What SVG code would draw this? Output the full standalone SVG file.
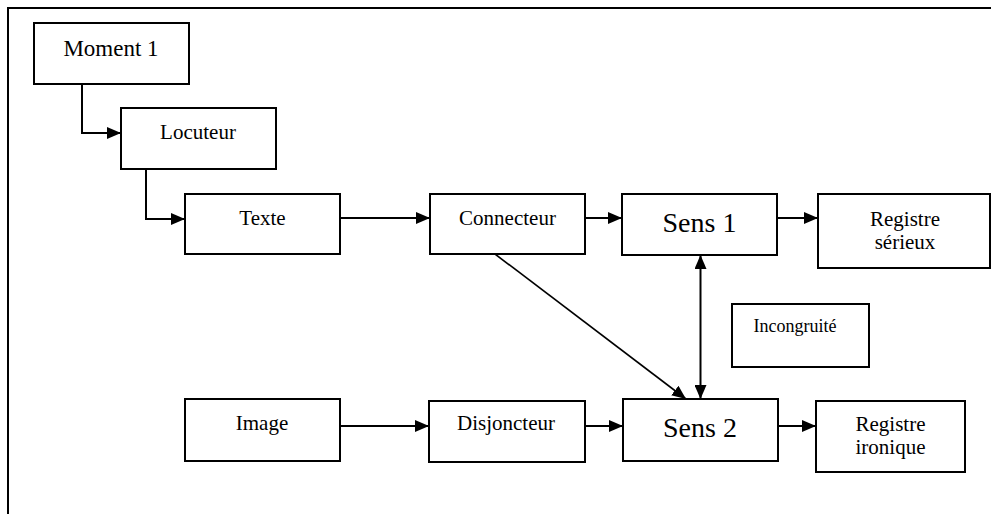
<svg xmlns="http://www.w3.org/2000/svg" width="991" height="514" viewBox="0 0 991 514">
<style>
.box{fill:#fff;stroke:#000;stroke-width:2}
.t{font-family:"Liberation Serif","Times New Roman",serif;font-size:21px;fill:#000;text-anchor:middle}
.big{font-size:28px}
.m{font-size:23px}
.s{font-size:18px}
.c{fill:none;stroke:#000;stroke-width:2}
.d{fill:none;stroke:#000;stroke-width:1.6}
</style>
<defs>
<marker id="ah" viewBox="0 0 14 12" refX="14" refY="6" markerWidth="14" markerHeight="12" markerUnits="userSpaceOnUse" orient="auto-start-reverse">
<path d="M0,0 L14,6 L0,12 z" fill="#000"/>
</marker>
</defs>
<rect x="8" y="8" width="1000" height="520" fill="#fff" stroke="#000" stroke-width="2"/>
<g id="connectors">
<path class="c" d="M82,84 V133 H121" marker-end="url(#ah)"/>
<path class="c" d="M146,169 V219 H185" marker-end="url(#ah)"/>
<path class="c" d="M340,218 H430" marker-end="url(#ah)"/>
<path class="c" d="M585,218 H622" marker-end="url(#ah)"/>
<path class="c" d="M777,218 H818" marker-end="url(#ah)"/>
<path class="d" d="M495,254 L686,399" marker-end="url(#ah)"/>
<path class="c" d="M700.5,255 V399" marker-start="url(#ah)" marker-end="url(#ah)"/>
<path class="c" d="M338,426 H429" marker-end="url(#ah)"/>
<path class="c" d="M585,426 H623" marker-end="url(#ah)"/>
<path class="c" d="M778,426 H816" marker-end="url(#ah)"/>
</g>
<g id="moment1"><rect class="box" x="34" y="23" width="155" height="61"/><text class="t m" x="111" y="56">Moment 1</text></g>
<g id="locuteur"><rect class="box" x="121" y="108" width="155" height="61"/><text class="t" x="198" y="139">Locuteur</text></g>
<g id="texte"><rect class="box" x="185" y="194" width="155" height="60"/><text class="t" x="262.5" y="225">Texte</text></g>
<g id="connecteur"><rect class="box" x="430" y="194" width="155" height="60"/><text class="t" x="507.5" y="225">Connecteur</text></g>
<g id="sens1"><rect class="box" x="622" y="194" width="155" height="61"/><text class="t big" x="699.5" y="232">Sens 1</text></g>
<g id="registre-serieux"><rect class="box" x="818" y="194" width="172" height="74"/><text class="t" x="905" y="226">Registre</text><text class="t" x="905" y="249">sérieux</text></g>
<g id="incongruite"><rect class="box" x="732" y="304" width="137" height="63"/><text class="t s" x="795" y="332">Incongruité</text></g>
<g id="image"><rect class="box" x="185" y="399" width="155" height="62"/><text class="t" x="262" y="430">Image</text></g>
<g id="disjoncteur"><rect class="box" x="429" y="401" width="156" height="61"/><text class="t" x="506" y="430">Disjoncteur</text></g>
<g id="sens2"><rect class="box" x="623" y="399" width="155" height="62"/><text class="t big" x="700" y="437">Sens 2</text></g>
<g id="registre-ironique"><rect class="box" x="816" y="401" width="149" height="71"/><text class="t" x="890.5" y="431">Registre</text><text class="t" x="890.5" y="454">ironique</text></g>
</svg>
